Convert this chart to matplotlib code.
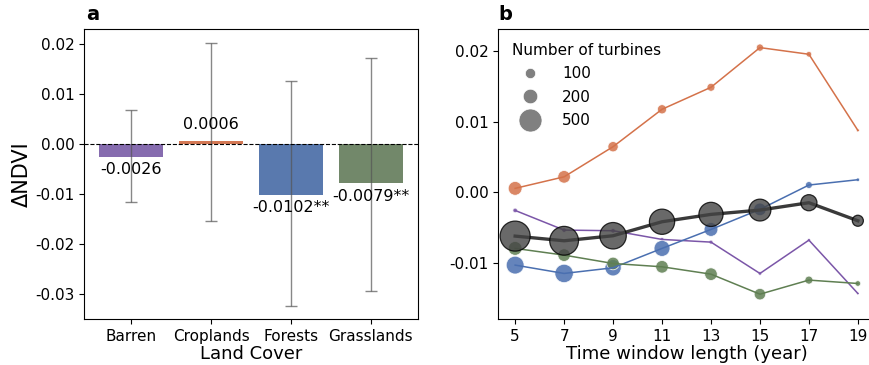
import numpy as np
import matplotlib
matplotlib.use("Agg")
import matplotlib.pyplot as plt
from matplotlib.lines import Line2D

plt.rcParams["font.family"] = "DejaVu Sans"
plt.rcParams["axes.unicode_minus"] = False

# panel a: mean change in NDVI per land cover
land_cover = ["Barren", "Croplands", "Forests", "Grasslands"]
dndvi = [-0.0026, 0.0006, -0.0102, -0.0079]
err_low = [-0.0117, -0.0154, -0.0325, -0.0295]
err_high = [0.0067, 0.0201, 0.0125, 0.0171]
bar_labels = ["-0.0026", "0.0006", "-0.0102**", "-0.0079**"]
colors = ["#8064ab", "#d2714b", "#5072aa", "#6a8262"]

# panel b: change vs. time window length
windows = [5, 7, 9, 11, 13, 15, 17, 19]
barren = [-0.00255, -0.00533, -0.00542, -0.00665, -0.00703, -0.01146, -0.00675, -0.01429]
crop = [0.00057, 0.0022, 0.00646, 0.01175, 0.01486, 0.02047, 0.01953, 0.00877]
forest = [-0.01028, -0.01146, -0.01066, -0.00792, -0.00524, -0.0024, 0.00104, 0.00179]
grass = [-0.00792, -0.00887, -0.01005, -0.01052, -0.01156, -0.01439, -0.0124, -0.01288]
total = [-0.00618, -0.00684, -0.00613, -0.00415, -0.00311, -0.0025, -0.00146, -0.00401]

n_barren = [20, 20, 20, 15, 15, 12, 10, 5]
n_crop = [180, 150, 100, 80, 60, 50, 30, 8]
n_forest = [300, 320, 250, 240, 180, 150, 45, 12]
n_grass = [180, 150, 150, 150, 150, 125, 60, 30]
n_total = [850, 780, 660, 600, 550, 450, 245, 115]
legend_sizes = [100, 200, 500]

K = 0.55  # points^2 per turbine

fig = plt.figure(figsize=(8.69, 3.65), dpi=100)
ax1 = fig.add_axes([84 / 869, 46 / 365, 334 / 869, 290 / 365])
ax2 = fig.add_axes([498 / 869, 46 / 365, 377 / 869, 290 / 365])

x = np.arange(len(land_cover))
ax1.bar(x, dndvi, width=0.8, color=colors, alpha=0.95)
yerr = [np.array(dndvi) - np.array(err_low), np.array(err_high) - np.array(dndvi)]
ax1.errorbar(x, dndvi, yerr=yerr, fmt="none", ecolor="#555555", alpha=0.7,
             elinewidth=1, capsize=4, capthick=1)
ax1.axhline(0, color="k", ls="--", lw=0.8)
for xi, v, lab in zip(x, dndvi, bar_labels):
    if v >= 0:
        ax1.annotate(lab, (xi, v), xytext=(0, 6), textcoords="offset points",
                     ha="center", va="bottom", fontsize=11.5)
    else:
        ax1.annotate(lab, (xi, v), xytext=(0, -4), textcoords="offset points",
                     ha="center", va="top", fontsize=11.5)
ax1.set_xlim(-0.59, 3.59)
ax1.set_ylim(-0.035, 0.0229)
ax1.set_yticks([0.02, 0.01, 0.0, -0.01, -0.02, -0.03])
ax1.set_yticklabels(["0.02", "0.01", "0.00", "-0.01", "-0.02", "-0.03"])
ax1.set_xticks(x)
ax1.set_xticklabels(land_cover)
ax1.tick_params(labelsize=11)
ax1.set_xlabel("Land Cover", fontsize=13, labelpad=1)
ax1.set_ylabel("ΔNDVI", fontsize=15, labelpad=2)
fig.text(86 / 869, 1 - 15 / 365, "a", fontsize=14, fontweight="bold", va="center")

series = [(barren, n_barren, "#7b56a8"), (crop, n_crop, "#d4724a"),
          (forest, n_forest, "#4a6fb0"), (grass, n_grass, "#5f7f52")]
for vals, n, c in series:
    ax2.scatter(windows, vals, s=np.array(n) * K, color=c, alpha=0.85,
                edgecolor="white", linewidth=0.6, zorder=2)
    ax2.plot(windows, vals, color=c, lw=1.1, zorder=3)
ax2.plot(windows, total, color="#3a3a3a", lw=2.4, zorder=4)
ax2.scatter(windows, total, s=np.array(n_total) * K, color="#444444", alpha=0.8,
            edgecolor="black", linewidth=0.9, zorder=5)

handles = [Line2D([], [], ls="", marker="o", color="#808080", markeredgecolor="white",
                  markeredgewidth=0.5, markersize=np.sqrt(v * K)) for v in legend_sizes]
leg = ax2.legend(handles, [str(v) for v in legend_sizes], title="Number of turbines",
                 loc="upper left", frameon=False, fontsize=11, title_fontsize=11,
                 labelspacing=0.55, borderaxespad=0.5, handlelength=2.4,
                 handletextpad=0.9)
leg._legend_box.align = "left"

ax2.set_xlim(4.3, 19.7)
ax2.set_ylim(-0.0179, 0.0231)
ax2.set_xticks(windows)
ax2.set_yticks([0.02, 0.01, 0.0, -0.01])
ax2.set_yticklabels(["0.02", "0.01", "0.00", "-0.01"])
ax2.tick_params(labelsize=11)
ax2.set_xlabel("Time window length (year)", fontsize=13, labelpad=1)
fig.text(498 / 869, 1 - 15 / 365, "b", fontsize=14, fontweight="bold", va="center")

fig.savefig("out.png", dpi=100)
